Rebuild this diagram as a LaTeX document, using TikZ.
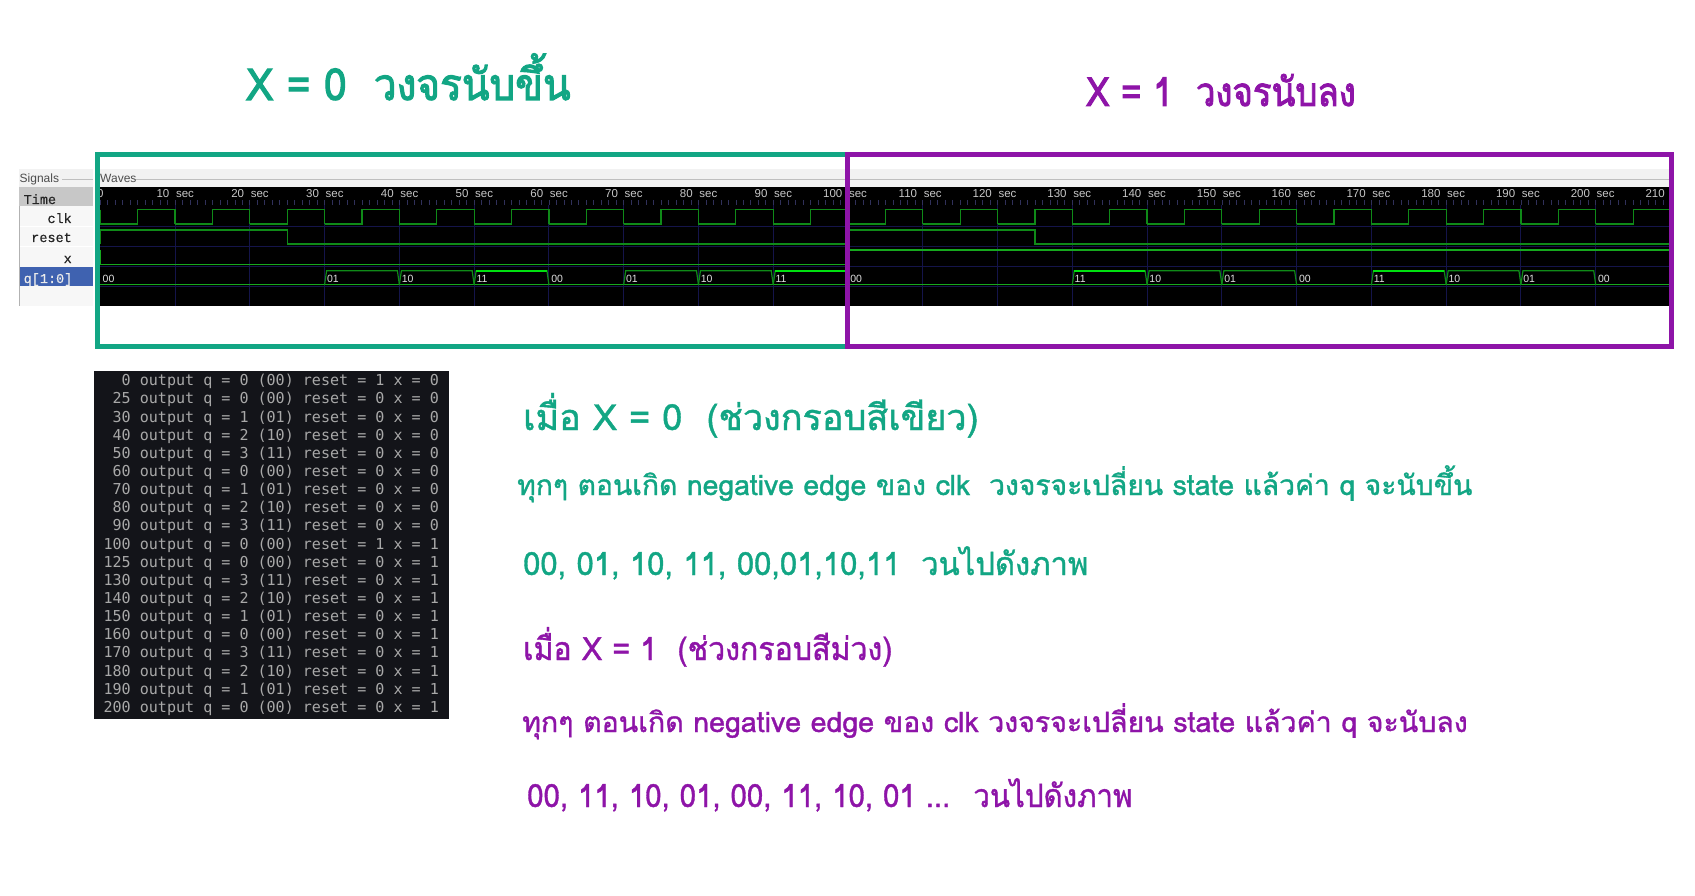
\documentclass[tikz,border=0pt]{standalone}
\usepackage{fontspec}
\setmainfont{Liberation Sans}
\setmonofont{DejaVu Sans Mono}
\newfontfamily\hwfont[Script=Thai,FakeBold=1.2]{Loma}
\newfontfamily\hwtitle[Script=Thai,FakeBold=2.5]{Loma}
\newfontfamily\sigfont[FakeBold=0.4]{Liberation Mono}
\newcommand{\fs}[1]{\fontsize{#1}{#1}\selectfont}
\definecolor{hwgreen}{HTML}{12A684}
\definecolor{hwpurple}{HTML}{8E14A8}
\definecolor{wave}{HTML}{0F8A18}
\definecolor{waveb}{HTML}{16A81E}
\definecolor{bright}{HTML}{00E010}
\definecolor{gridc}{HTML}{14144A}
\definecolor{tickc}{HTML}{30305A}
\definecolor{term}{HTML}{131419}
\definecolor{termtext}{HTML}{A8A8A8}
\definecolor{qband}{HTML}{3F62B0}
\tikzset{
  x=1pt,y=-1pt,
  declare function={tx(\t)=100.3+7.477*\t;},
  hw/.style={anchor=base west,inner sep=0pt,font=\hwfont},
  hwt/.style={anchor=base west,inner sep=0pt,font=\hwtitle},
  rul/.style={inner sep=0pt,text=black!22,font=\fs{11.5}},
  sigl/.style={inner sep=0pt,font=\sigfont\fs{13.5},text=black!85},
  qlab/.style={anchor=west,inner sep=0pt,text=black!12,font=\fs{10.5}},
  tl/.style={anchor=west,inner sep=0pt,text=termtext,font=\ttfamily\fs{15.05}},
  wv/.style={draw=wave,line width=1.2pt},
  frame/.style={line width=5pt}
}
\newcommand{\hwline}[6]{\node[#1,text=#2] (#3) at #4 {\scalebox{#5}[1]{#6}};}
\begin{document}
\begin{tikzpicture}
\useasboundingbox (0,0) rectangle (1695,896);
\fill[white] (0,0) rectangle (1695,896);
% Header band
\fill[black!5] (19,169) rectangle (93,187);
\fill[black!5] (100,169) rectangle (1669,187);
\draw[black!25,line width=.7pt] (62,179) -- (93,179) (135,179) -- (1669,179);
\node[anchor=base west,inner sep=0pt,font=\fs{12},text=black!70] (sigt) at (19.5,183) {Signals};
\node[anchor=base west,inner sep=0pt,font=\fs{12},text=black!70] (wavt) at (100,183) {Waves};
% Signal list
\fill[black!3] (19,187) rectangle (93,306);
\draw[black!30,line width=.7pt] (19,187) -- (19,306);
\fill[black!22] (19,187) rectangle (93,206);
\fill[qband] (20,267) rectangle (93,286);
\draw[white,line width=.8pt] (20,226) -- (93,226) (20,246) -- (93,246);
\node[sigl,anchor=base west] (stime) at (23.5,204) {Time};
\node[sigl,anchor=base east] (sclk) at (72,223) {clk};
\node[sigl,anchor=base east] (srst) at (72,242) {reset};
\node[sigl,anchor=base east] (sx) at (72,263) {x};
\node[sigl,anchor=base west,text=black!8] (sq) at (23.5,283) {q[1:0]};
% Wave panel
\fill[black] (100.3,187) rectangle (1669,306);
\foreach \y in {226,246,266,286} \draw[gridc,line width=.9pt] (100.3,\y) -- (1669,\y);
\foreach \k in {1,...,20} \draw[gridc,line width=.9pt] ({tx(10*\k)},205) -- ({tx(10*\k)},306);
\foreach \k in {0,...,209} \draw[tickc,line width=.7pt] ({tx(\k)},200) -- ({tx(\k)},205);
% Ruler
\node[rul,anchor=base west] (r0) at (97,198) {0};
\foreach \k in {1,...,21}{
  \pgfmathtruncatemacro{\lab}{10*\k}
  \node[rul,anchor=base east] (rn\k) at ({tx(10*\k)-5.5},198) {\lab};
}
\foreach \k in {1,...,20}{
  \node[rul,anchor=base west] (rs\k) at ({tx(10*\k)+0.8},198) {sec};
}
% clk
\draw[wv] ({tx(0)},209.7) -- ({tx(0)},224);
\foreach \k in {0,...,20}{
  \draw[wv] ({tx(10*\k)},224) -- ({tx(10*\k+5)},224) -- ({tx(10*\k+5)},209.7) -- ({tx(10*\k+10)},209.7) -- ({tx(10*\k+10)},224);
}
% reset
\draw[wv] ({tx(0)},244) -- ({tx(0)},230) -- ({tx(25)},230) -- ({tx(25)},244) -- ({tx(100)},244) -- ({tx(100)},230) -- ({tx(125)},230) -- ({tx(125)},244) -- ({tx(210)},244);
% x
\draw[wv,draw=waveb] ({tx(0)},250) -- ({tx(0)},264.7) -- ({tx(100)},264.7) -- ({tx(100)},250) -- ({tx(210)},250);
% q
\draw[wv,draw=waveb] ({tx(0)},284.7) -- ({tx(210)},284.7);
\foreach \a/\b in {30/40,40/50,50/60,70/80,80/90,90/100,130/140,140/150,150/160,170/180,180/190,190/200}{
  \draw[wv] ({tx(\a)},284.7) -- ({tx(\a)+2},270.7) -- ({tx(\b)-2},270.7) -- ({tx(\b)},284.7);
}
\foreach \a in {50,90,130,170}{
  \draw[bright,line width=1.8pt] ({tx(\a)+2},270.7) -- ({tx(\a+10)-2},270.7);
}
\foreach \t/\v in {0/00,30/01,40/10,50/11,60/00,70/01,80/10,90/11,100/00,130/11,140/10,150/01,160/00,170/11,180/10,190/01,200/00}{
  \node[qlab] (q\t) at ({tx(\t)+2.2},279.3) {\v};
}
% Frames
\draw[frame,hwgreen] (847,155) -- (97,155) -- (97,346) -- (847,346);
\draw[frame,hwpurple] (847,155) rectangle (1671,346);
% Terminal
\fill[term] (94,371) rectangle (449,719);
\foreach \i/\n/\q/\b/\r/\xv in {
 0/~~0/0/00/1/0, 1/~25/0/00/0/0, 2/~30/1/01/0/0, 3/~40/2/10/0/0, 4/~50/3/11/0/0,
 5/~60/0/00/0/0, 6/~70/1/01/0/0, 7/~80/2/10/0/0, 8/~90/3/11/0/0, 9/100/0/00/1/1,
 10/125/0/00/0/1, 11/130/3/11/0/1, 12/140/2/10/0/1, 13/150/1/01/0/1, 14/160/0/00/0/1,
 15/170/3/11/0/1, 16/180/2/10/0/1, 17/190/1/01/0/1, 18/200/0/00/0/1}{
  \node[tl] (t\i) at (103.4,{381.6+18.15*\i}) {\n\ output q = \q\ (\b) reset = \r\ x = \xv};
}
% Handwritten notes
\hwline{hwt}{hwgreen}{h1}{(246,100)}{0.92}{\fs{44}X = 0 \ วงจรนับขึ้น}
\hwline{hwt}{hwpurple}{h2}{(1086,106)}{0.87}{\fs{40}X = 1 \ วงจรนับลง}
\hwline{hw}{hwgreen}{g1}{(523,430)}{1}{\fs{36}เมื่อ X = 0 \ (ช่วงกรอบสีเขียว)}
\hwline{hw}{hwgreen}{g2}{(517,495)}{1.01}{\fs{28}ทุกๆ ตอนเกิด negative edge ของ clk \ วงจรจะเปลี่ยน state แล้วค่า q จะนับขึ้น}
\hwline{hw}{hwgreen}{g3}{(523,575)}{0.967}{\fs{32}00, 01, 10, 11, 00,01,10,11 \ วนไปดังภาพ}
\hwline{hw}{hwpurple}{p1}{(523,660)}{0.947}{\fs{32}เมื่อ X = 1 \ (ช่วงกรอบสีม่วง)}
\hwline{hw}{hwpurple}{p2}{(522,732)}{1.018}{\fs{28}ทุกๆ ตอนเกิด negative edge ของ clk วงจรจะเปลี่ยน state แล้วค่า q จะนับลง}
\hwline{hw}{hwpurple}{p3}{(527,807)}{0.92}{\fs{32}00, 11, 10, 01, 00, 11, 10, 01 ... \ วนไปดังภาพ}
\end{tikzpicture}
\end{document}
